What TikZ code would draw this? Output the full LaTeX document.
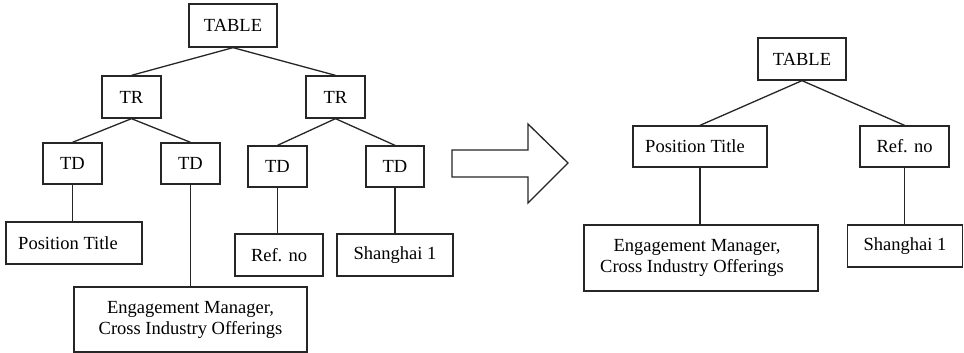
\documentclass[tikz,border=0pt]{standalone}
\usepackage{fontspec}
\setmainfont{Liberation Serif}
\begin{document}
\begin{tikzpicture}[x=1pt,y=-1pt,
  ink/.style={draw=black!85, line width=1.3pt},
  box/.style={ink, rectangle, inner sep=0pt, text=black,
    font=\fontsize{18.5}{21}\selectfont, align=center},
  edge/.style={ink}]
\useasboundingbox[fill=white] (0,0) rectangle (964,353);

% ---- HTML tree before transformation ----
\node[box, minimum width=88pt,  minimum height=43pt] (tA)  at (233,25.5)   {TABLE};
\node[box, minimum width=59pt,  minimum height=42pt] (trL) at (131.5,97)   {TR};
\node[box, minimum width=59pt,  minimum height=42pt] (trR) at (335.5,97)   {TR};
\node[box, minimum width=59pt,  minimum height=41pt] (td1) at (72.5,163.5) {TD};
\node[box, minimum width=59pt,  minimum height=41pt] (td2) at (190.5,163.5){TD};
\node[box, minimum width=59pt,  minimum height=41pt] (td3) at (277.5,166.5){TD};
\node[box, minimum width=58pt,  minimum height=41pt] (td4) at (395,166.5)  {TD};
\node[box, minimum width=136pt, minimum height=42pt] (pos) at (74,243)     {Position Title\hspace*{12pt}};
\node[box, minimum width=88pt,  minimum height=42pt] (ref) at (279,255)    {Ref. no};
\node[box, minimum width=116pt, minimum height=42pt] (sh)  at (395,255)    {Shanghai 1};
\node[box, minimum width=233pt, minimum height=65pt] (eng) at (190.5,319.5)
  {Engagement Manager,\\Cross Industry Offerings};

\draw[edge] (tA.south) -- (trL.north);
\draw[edge] (tA.south) -- (trR.north);
\draw[edge] (trL.south) -- (td1.north);
\draw[edge] (trL.south) -- (td2.north);
\draw[edge] (trR.south) -- (td3.north);
\draw[edge] (trR.south) -- (td4.north);
\draw[edge] (td1.south) -- (td1.south |- pos.north);
\draw[edge] (td2.south) -- (td2.south |- eng.north);
\draw[edge] (td3.south) -- (td3.south |- ref.north);
\draw[edge] (td4.south) -- (td4.south |- sh.north);

% ---- block arrow ----
\draw[ink, line join=miter] (452,150) -- (528,150) -- (528,124) -- (568,163)
  -- (528,203) -- (528,177) -- (452,177) -- cycle;

% ---- simplified tree ----
\node[box, minimum width=88pt,  minimum height=42pt] (tB)   at (802,59)    {TABLE};
\node[box, minimum width=134pt, minimum height=41pt] (posB) at (700,146.5) {Position Title\hspace*{10pt}};
\node[box, minimum width=89pt,  minimum height=41pt] (refB) at (904.5,146.5){Ref. no};
\node[box, minimum width=234pt, minimum height=66pt] (engB) at (701,258)
  {Engagement Manager,\hspace*{8pt}\\Cross Industry Offerings\hspace*{18pt}};
\node[box, minimum width=115pt, minimum height=42pt] (shB)  at (905,246)   {Shanghai 1};

\draw[edge] (tB.south) -- (posB.north);
\draw[edge] (tB.south) -- (refB.north);
\draw[edge] (posB.south) -- (posB.south |- engB.north);
\draw[edge] (refB.south) -- (refB.south |- shB.north);
\end{tikzpicture}
\end{document}
